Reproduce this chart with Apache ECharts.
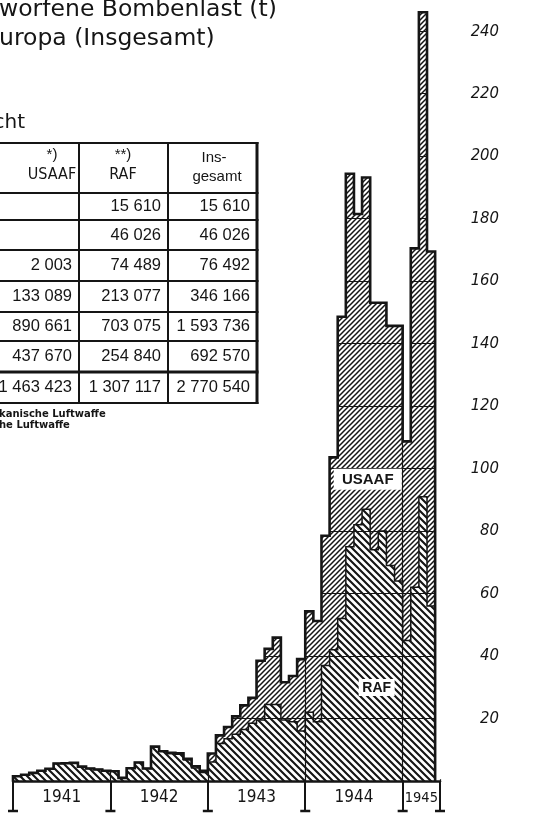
<!DOCTYPE html>
<html>
<head>
<meta charset="utf-8">
<script src="https://cdn.jsdelivr.net/npm/echarts@6/dist/echarts.min.js"></script>
<style>
  html, body { margin: 0; padding: 0; background: #fff; }
  #chart { width: 556px; height: 816px; }
</style>
</head>
<body>
<div id="chart"></div>
<script>
// Abgeworfene Bombenlast pro Monat (1000 t), Jan 1941 .. Apr 1945
const rafMonthly = [
  1.5, 2.0, 2.6, 3.3, 3.9, 5.6, 5.7, 5.8, 4.6, 4.0, 3.7, 3.3,          // 1941
  3.1, 1.0, 4.1, 5.9, 4.0, 11.0, 9.5, 8.8, 8.6, 6.7, 4.2, 2.7,         // 1942
  6.1, 12.0, 13.5, 15.0, 16.5, 18.5, 19.5, 24.5, 24.5, 19.5, 19.0, 16.0, // 1943
  22, 19, 37, 42, 52, 75, 82, 87, 74, 80, 69, 64,                      // 1944
  45, 62, 91, 56                                                       // 1945
];
const usaafMonthly = [
  0, 0, 0, 0, 0, 0, 0, 0, 0, 0, 0, 0,
  0, 0, 0, 0, 0, 0, 0, 0.2, 0.3, 0.4, 0.5, 0.6,
  2.7, 2.6, 3.8, 5.7, 7.7, 8.1, 19.0, 17.8, 21.4, 12.1, 14.6, 23.0,
  32.3, 32.2, 41.5, 61.6, 96.6, 119.4, 99.5, 106.2, 79.1, 73.1, 76.7, 81.7,
  63.7, 108.5, 155.1, 113.5
];

// x axis in months since Jan 1941
const yearNames = ['1941', '1942', '1943', '1944', '1945'];
const yearTicks = [0, 12, 24, 36, 48, 52.6];
const yearLabelAt = [6, 18, 30, 42, 50.3];

// Tabelle (t)
const tableUsaaf = [null, null, 2003, 133089, 890661, 437670, 1463423];
const tableRaf = [15610, 46026, 74489, 213077, 703075, 254840, 1307117];
const tableTotal = [15610, 46026, 76492, 346166, 1593736, 692570, 2770540];

const INK = '#151515';
const Y_MAX = 250;
const X_END = rafMonthly.length;
const NARROW = '"DejaVu Sans Condensed", "Liberation Sans Narrow", sans-serif';

function hatch(size, width, dir) {
  const c = document.createElement('canvas');
  c.width = size;
  c.height = size;
  const ctx = c.getContext('2d');
  ctx.strokeStyle = INK;
  ctx.lineWidth = width;
  ctx.beginPath();
  for (let k = -1; k <= 1; k++) {
    if (dir === 'back') {
      ctx.moveTo(k * size - 1, -1);
      ctx.lineTo(k * size + size + 1, size + 1);
    } else {
      ctx.moveTo(k * size - 1, size + 1);
      ctx.lineTo(k * size + size + 1, -1);
    }
  }
  ctx.stroke();
  return c;
}
const rafPattern = { image: hatch(7, 2.1, 'back'), repeat: 'repeat' };
const usaafPattern = { image: hatch(5, 1.5, 'fwd'), repeat: 'repeat' };

const totalMonthly = rafMonthly.map((v, i) => v + usaafMonthly[i]);

// upper edge of a monthly step curve, from x=0 to x=X_END
function stepTop(vals) {
  const pts = [];
  vals.forEach((v, i) => pts.push([i, v], [i + 1, v]));
  return pts;
}

function renderSteps(params, api) {
  const P = p => api.coord(p);
  const rafTop = stepTop(rafMonthly);
  const totTop = stepTop(totalMonthly);
  const rafPoly = [[0, 0]].concat(rafTop, [[X_END, 0]]).map(P);
  const usaafPoly = totTop.concat(rafTop.slice().reverse()).map(P);
  // white cover above the total, so grid lines only show inside the hatched area
  const maskPoly = [[-0.3, Y_MAX], [X_END + 1, Y_MAX], [X_END + 1, 0.6], [X_END, 0.6]]
    .concat(totTop.slice().reverse(), [[0, 0.6], [-0.3, 0.6]]).map(P);
  const outline = [[0, 0]].concat(totTop, [[X_END, 0]]).map(P);
  return {
    type: 'group',
    children: [
      { type: 'polygon', shape: { points: maskPoly }, style: { fill: '#fff' } },
      { type: 'polygon', shape: { points: rafPoly }, style: { fill: rafPattern } },
      { type: 'polygon', shape: { points: usaafPoly }, style: { fill: usaafPattern } },
      { type: 'polyline', shape: { points: rafTop.map(P) }, style: { stroke: INK, lineWidth: 1.5, fill: null } },
      { type: 'polyline', shape: { points: outline }, style: { stroke: INK, lineWidth: 2.6, fill: null } }
    ]
  };
}

function fmt(n) {
  return n == null ? '' : String(n).replace(/\B(?=(\d{3})+(?!\d))/g, ' ');
}

const chart = echarts.init(document.getElementById('chart'), null, { renderer: 'canvas' });

const option = {
  animation: false,
  backgroundColor: '#fff',
  grid: { left: 13, top: -5.5, width: 427, height: 786.5 },
  xAxis: {
    type: 'value',
    min: 0,
    max: 52.6,
    interval: 12,
    axisLine: { lineStyle: { color: INK, width: 2.5 } },
    axisTick: { length: 31, customValues: yearTicks, lineStyle: { color: INK, width: 2 } },
    axisLabel: {
      customValues: yearLabelAt,
      formatter: v => {
        const name = yearNames[yearLabelAt.indexOf(v)];
        return name === '1945' ? '{s|' + name + '}' : name;
      },
      color: INK,
      fontFamily: NARROW,
      fontSize: 17,
      lineHeight: 20,
      margin: 7,
      rich: { s: { fontFamily: NARROW, fontSize: 14.5, lineHeight: 20, color: INK } }
    },
    splitLine: { show: true, lineStyle: { color: INK, width: 1.2 } }
  },
  yAxis: {
    type: 'value',
    position: 'right',
    min: 0,
    max: Y_MAX,
    interval: 20,
    axisLine: { show: false },
    axisTick: { show: false },
    axisLabel: {
      formatter: v => (v > 0 && v <= 240 ? String(v) : ''),
      align: 'right',
      margin: 59,
      color: INK,
      fontFamily: NARROW,
      fontStyle: 'italic',
      fontSize: 16.5
    },
    splitLine: { lineStyle: { color: INK, width: 1 } }
  },
  series: [
    {
      name: 'Bombenlast',
      type: 'custom',
      coordinateSystem: 'cartesian2d',
      silent: true,
      z: 2,
      data: [[0, 0]],
      renderItem: renderSteps
    }
  ]
};

chart.setOption(option);

function txt(s, x, y, font, align) {
  return {
    type: 'text', x: x, y: y, z: 100, silent: true,
    style: { text: s, font: font, fill: INK, textAlign: align || 'left', textVerticalAlign: 'middle' }
  };
}
function seg(x1, y1, x2, y2, w) {
  return {
    type: 'line', z: 100, silent: true,
    shape: { x1: x1, y1: y1, x2: x2, y2: y2 },
    style: { stroke: INK, lineWidth: w }
  };
}
function box(x, y, w, h) {
  return { type: 'rect', z: 99, silent: true, shape: { x: x, y: y, width: w, height: h }, style: { fill: '#fff' } };
}

const toPx = (x, y) => chart.convertToPixel({ gridIndex: 0 }, [x, y]);
const graphics = [];

// feet under the year ticks
yearTicks.forEach(v => {
  const p = toPx(v, 0);
  graphics.push(seg(p[0] - 5, 811, p[0] + 5, 811, 2.5));
});

// series names inside the areas
[
  { text: 'USAAF', at: [43.7, 96.6], w: 68, h: 21, font: 'bold 15px "Liberation Sans", sans-serif' },
  { text: 'RAF', at: [44.8, 29.9], w: 36, h: 17, font: 'bold 14px "Liberation Sans", sans-serif' }
].forEach(l => {
  const p = toPx(l.at[0], l.at[1]);
  graphics.push(box(p[0] - l.w / 2, p[1] - l.h / 2, l.w, l.h));
  graphics.push(txt(l.text, p[0], p[1] + 0.5, l.font, 'center'));
});

// title, cropped on the left in the scan
const TITLE = '23.5px "DejaVu Sans", sans-serif';
graphics.push(txt('worfene Bombenlast (t)', -1, 10, TITLE));
graphics.push(txt('uropa (Insgesamt)', -1, 38.5, TITLE));
graphics.push(txt('cht', 25, 123, '20px "DejaVu Sans", sans-serif', 'right'));

// table
const rowLines = [143, 193, 220, 250, 281, 312, 341, 372, 403];
rowLines.forEach(y => graphics.push(seg(-5, y, 258.5, y, y === 372 ? 2.8 : 2)));
graphics.push(seg(79, 143, 79, 403, 2));
graphics.push(seg(168, 143, 168, 403, 2));
graphics.push(seg(257, 142, 257, 404, 3));

const HEAD_W = '15px "Liberation Sans", sans-serif';
graphics.push(txt('*)', 52, 155, HEAD_W, 'center'));
graphics.push(txt('USAAF', 52, 175, '16px ' + NARROW, 'center'));
graphics.push(txt('**)', 123, 155, HEAD_W, 'center'));
graphics.push(txt('RAF', 123, 175, '16px ' + NARROW, 'center'));
graphics.push(txt('Ins-', 214, 158, HEAD_W, 'center'));
graphics.push(txt('gesamt', 217, 177, HEAD_W, 'center'));

const NUM = '16.5px "Liberation Sans", sans-serif';
const colText = [72, 161, 250];
tableRaf.forEach((_, r) => {
  const y = (rowLines[r + 1] + rowLines[r + 2]) / 2;
  graphics.push(txt(fmt(tableUsaaf[r]), colText[0], y, NUM, 'right'));
  graphics.push(txt(fmt(tableRaf[r]), colText[1], y, NUM, 'right'));
  graphics.push(txt(fmt(tableTotal[r]), colText[2], y, NUM, 'right'));
});

const NOTE = 'bold 10px "DejaVu Sans", sans-serif';
graphics.push(txt('kanische Luftwaffe', -1, 414, NOTE));
graphics.push(txt('he Luftwaffe', -1, 425, NOTE));

chart.setOption({ graphic: { elements: graphics } });
</script>
</body>
</html>
